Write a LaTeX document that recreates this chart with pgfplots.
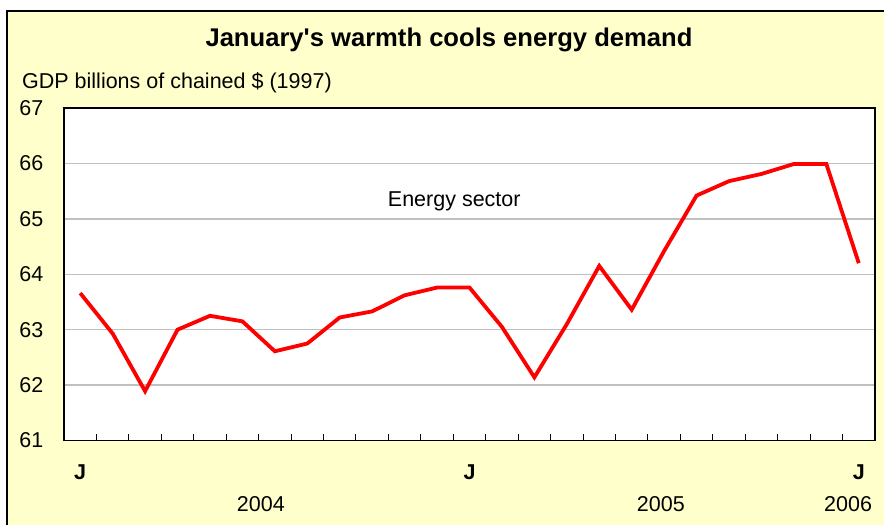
\documentclass[border=0pt]{standalone}
\usepackage{pgfplots}
\pgfplotsset{compat=1.18}
\usepackage{fontspec}
\setmainfont{Liberation Sans}
\newfontfamily\plainfont{Liberation Sans}[Ligatures=ResetAll]
\definecolor{bgyellow}{HTML}{FFFFCC}
\definecolor{gridgray}{HTML}{C0C0C0}
\newcommand{\tf}{\fontsize{21.5}{25}\selectfont}
\begin{document}
\begin{tikzpicture}[x=1pt,y=1pt]
\useasboundingbox (0,0) rectangle (884,525);
\fill[white] (0,0) rectangle (884,525);
\fill[bgyellow] (7,0) rectangle (884,514);
\draw[black,line width=1.5pt] (7,0) -- (7,514) -- (884.5,514);
\node[anchor=base,font=\plainfont\fontsize{25.6}{30}\selectfont\bfseries] at (449,478.3) {January's warmth cools energy demand};
\node[anchor=base west,inner sep=0pt,font=\tf] at (22,436.7) {GDP billions of chained \$ (1997)};
\begin{axis}[
  at={(64pt,84.5pt)}, anchor=south west,
  width=811pt, height=332.5pt, scale only axis,
  xmin=-0.5, xmax=24.5, ymin=61, ymax=67,
  clip=false,
  axis background/.style={fill=white},
  axis line style={black,line width=1.5pt},
  ytick={61,62,...,67},
  yticklabel style={anchor=east,inner sep=0pt,xshift=-20.5pt,font=\tf},
  /pgf/number format/assume math mode=true,
  ymajorgrids,
  major grid style={gridgray,line width=1.5pt},
  xtick={0.5,1.5,...,23.5},
  xticklabels={},
  xtick pos=bottom, ytick pos=left,
  tick align=inside,
  xtick style={black,line width=1pt},
  major tick length=6pt,
  ytick style={draw=none},
]
\addplot[red,line width=3.8pt,line join=miter] coordinates {
(0,63.66) (1,62.93) (2,61.89) (3,63.00) (4,63.25) (5,63.15) (6,62.61)
(7,62.75) (8,63.22) (9,63.33) (10,63.62) (11,63.76) (12,63.76) (13,63.05)
(14,62.14) (15,63.10) (16,64.15) (17,63.36) (18,64.42) (19,65.42) (20,65.68)
(21,65.81) (22,65.99) (23,65.99) (24,64.20)
};
\node[anchor=base,font=\tf] at (axis cs:11.53,61) [yshift=234pt] {Energy sector};
\node[anchor=base,font=\tf\bfseries] at (axis cs:0,61) [yshift=-39.5pt] {J};
\node[anchor=base,font=\tf\bfseries] at (axis cs:12,61) [yshift=-39.5pt] {J};
\node[anchor=base,font=\tf\bfseries] at (axis cs:24,61) [yshift=-39.5pt] {J};
\node[anchor=base,font=\tf] at (axis cs:5.57,61) [yshift=-71.2pt] {2004};
\node[anchor=base,font=\tf] at (axis cs:17.9,61) [yshift=-71.2pt] {2005};
\node[anchor=base,font=\tf] at (axis cs:23.67,61) [yshift=-71.2pt] {2006};
\end{axis}
\end{tikzpicture}
\end{document}
